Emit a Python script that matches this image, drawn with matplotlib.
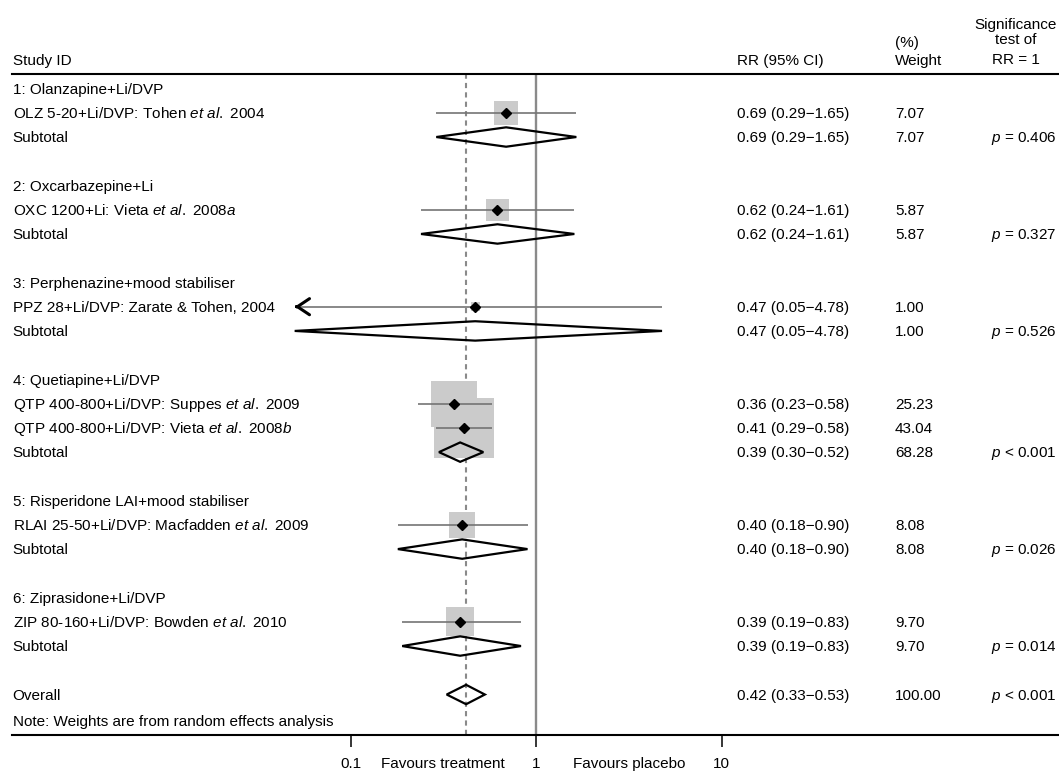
import matplotlib
matplotlib.use("Agg")
import matplotlib.pyplot as plt
import matplotlib.transforms as mtransforms
from matplotlib.patches import Polygon
import numpy as np

plt.rcParams['font.family'] = ['Liberation Sans', 'DejaVu Sans']
plt.rcParams['mathtext.fontset'] = 'custom'
plt.rcParams['mathtext.rm'] = 'Liberation Sans'
plt.rcParams['mathtext.it'] = 'Liberation Sans:italic'
plt.rcParams['mathtext.bf'] = 'Liberation Sans:bold'

# ---------------- data ----------------
group_names = [
    "1: Olanzapine+Li/DVP",
    "2: Oxcarbazepine+Li",
    "3: Perphenazine+mood stabiliser",
    "4: Quetiapine+Li/DVP",
    "5: Risperidone LAI+mood stabiliser",
    "6: Ziprasidone+Li/DVP",
]
study_group = [0, 1, 2, 3, 3, 4, 5]
study_labels = [
    r"OLZ 5-20+Li/DVP: Tohen $\mathit{et\ al.}$ 2004",
    r"OXC 1200+Li: Vieta $\mathit{et\ al.}$ 2008$\mathit{a}$",
    "PPZ 28+Li/DVP: Zarate & Tohen, 2004",
    r"QTP 400-800+Li/DVP: Suppes $\mathit{et\ al.}$ 2009",
    r"QTP 400-800+Li/DVP: Vieta $\mathit{et\ al.}$ 2008$\mathit{b}$",
    r"RLAI 25-50+Li/DVP: Macfadden $\mathit{et\ al.}$ 2009",
    r"ZIP 80-160+Li/DVP: Bowden $\mathit{et\ al.}$ 2010",
]
study_rr = [0.69, 0.62, 0.47, 0.36, 0.41, 0.40, 0.39]
study_lo = [0.29, 0.24, 0.05, 0.23, 0.29, 0.18, 0.19]
study_hi = [1.65, 1.61, 4.78, 0.58, 0.58, 0.90, 0.83]
study_weight = [7.07, 5.87, 1.00, 25.23, 43.04, 8.08, 9.70]

sub_rr = [0.69, 0.62, 0.47, 0.39, 0.40, 0.39]
sub_lo = [0.29, 0.24, 0.05, 0.30, 0.18, 0.19]
sub_hi = [1.65, 1.61, 4.78, 0.52, 0.90, 0.83]
sub_weight = [7.07, 5.87, 1.00, 68.28, 8.08, 9.70]
sub_p = ["= 0.406", "= 0.327", "= 0.526", "< 0.001", "= 0.026", "= 0.014"]

overall_rr, overall_lo, overall_hi = 0.42, 0.33, 0.53
overall_weight = 100.00
overall_p = "< 0.001"

axis_ticks = [0.1, 1, 10]
axis_ticklabels = ["0.1", "1", "10"]
favour_pos = [10 ** -0.5, 10 ** 0.5]
favour_labels = ["Favours treatment", "Favours placebo"]
ci_floor = 0.05
note_text = "Note: Weights are from random effects analysis"

# ---------------- layout ----------------
W, H = 1059, 771
fig = plt.figure(figsize=(W / 100, H / 100), dpi=100)
ax_left = 12 / W
ax = fig.add_axes([ax_left, 36 / H, 1 - ax_left, (735 - 74) / H])
ax.set_xscale('log')
x0 = 10 ** ((12 - 536) / 185.5)
x1 = 10 ** ((1059 - 536) / 185.5)
ax.set_xlim(x0, x1)
ax.set_ylim(26.67, -0.6)

# assign rows
study_rows = []
sub_rows = []
header_rows = []
r = 0
si = 0
for g in range(len(group_names)):
    header_rows.append(r)
    r += 1
    while si < len(study_group) and study_group[si] == g:
        study_rows.append(r)
        r += 1
        si += 1
    sub_rows.append(r)
    r += 2
overall_row = r
note_row = r + 1.1

FS = 11
tb = mtransforms.blended_transform_factory(fig.transFigure, ax.transData)
trow = mtransforms.offset_copy(tb, fig=fig, x=0, y=-3.8, units='points')

def ftxt(xpx, row, s, ha='left'):
    fig.text(xpx / W, row, s, transform=trow, ha=ha, va='baseline', fontsize=FS)

def hdr(xpx, ypx, s, ha='left'):
    fig.text(xpx / W, 1 - ypx / H, s, ha=ha, va='baseline', fontsize=FS)

# headers
hdr(12.7, 64.5, "Study ID")
hdr(737, 64.5, "RR (95% CI)")
hdr(895, 46.5, "(%)")
hdr(895, 64.5, "Weight")
hdr(1016, 29, "Significance", ha='center')
hdr(1016, 44, "test of", ha='center')
hdr(1016, 64.5, "RR = 1", ha='center')

# reference lines
ax.axvline(1, color='#8a8a8a', lw=1.7, zorder=1.5)
ax.axvline(overall_rr, color='#8a8a8a', lw=1.5, ls=(0, (2.5, 2)), zorder=1)

# studies
ax.scatter(study_rr, study_rows, s=[43.9 * w for w in study_weight], marker='s',
           color='#cbcbcb', linewidths=0, zorder=2)
for rr, lo, hi, row in zip(study_rr, study_lo, study_hi, study_rows):
    left = max(lo, ci_floor)
    ax.plot([left, hi], [row, row], color='#747474', lw=1.2, zorder=3,
            solid_capstyle='butt')
    if lo <= ci_floor:
        ax.annotate('', xy=(ci_floor, row), xytext=(ci_floor * 1.03, row),
                    arrowprops=dict(arrowstyle='->,head_length=0.87,head_width=0.58',
                                    color='black', lw=2.2, mutation_scale=10,
                                    shrinkA=0, shrinkB=0), zorder=5)
ax.plot(study_rr, study_rows, 'D', ms=4.6, color='black', zorder=4)

def diamond(rr, lo, hi, row, h=0.4):
    p = Polygon([(lo, row), (rr, row - h), (hi, row), (rr, row + h)], closed=True,
                fill=False, ec='black', lw=1.6, zorder=3, joinstyle='miter')
    ax.add_patch(p)

for rr, lo, hi, row in zip(sub_rr, sub_lo, sub_hi, sub_rows):
    diamond(rr, lo, hi, row)
diamond(overall_rr, overall_lo, overall_hi, overall_row)

def rrtxt(rr, lo, hi):
    return f"{rr:.2f} ({lo:.2f}\u2212{hi:.2f})"

# text rows
for g, row in enumerate(header_rows):
    ftxt(12.7, row, group_names[g])
for i, row in enumerate(study_rows):
    ftxt(12.7, row, study_labels[i])
    ftxt(737, row, rrtxt(study_rr[i], study_lo[i], study_hi[i]))
    ftxt(895, row, f"{study_weight[i]:.2f}")
for g, row in enumerate(sub_rows):
    ftxt(12.7, row, "Subtotal")
    ftxt(737, row, rrtxt(sub_rr[g], sub_lo[g], sub_hi[g]))
    ftxt(895, row, f"{sub_weight[g]:.2f}")
    ftxt(1057, row, r"$p$ " + sub_p[g], ha='right')
ftxt(12.7, overall_row, "Overall")
ftxt(737, overall_row, rrtxt(overall_rr, overall_lo, overall_hi))
ftxt(895, overall_row, f"{overall_weight:.2f}")
ftxt(1057, overall_row, r"$p$ " + overall_p, ha='right')
ftxt(12.7, note_row, note_text)

# axes styling
for s in ['left', 'right']:
    ax.spines[s].set_visible(False)
for s in ['top', 'bottom']:
    ax.spines[s].set_linewidth(1.5)
    ax.spines[s].set_color('black')
ax.set_yticks([])
ax.set_xticks(axis_ticks, labels=axis_ticklabels)
ax.set_xticks(favour_pos, labels=favour_labels, minor=True)
ax.tick_params(axis='x', which='major', length=8.6, width=1.1, pad=7.5,
               labelsize=FS, color='black')
ax.tick_params(axis='x', which='minor', length=0, pad=7.5 + 8.6, labelsize=FS)

fig.savefig("out.png", dpi=100)
